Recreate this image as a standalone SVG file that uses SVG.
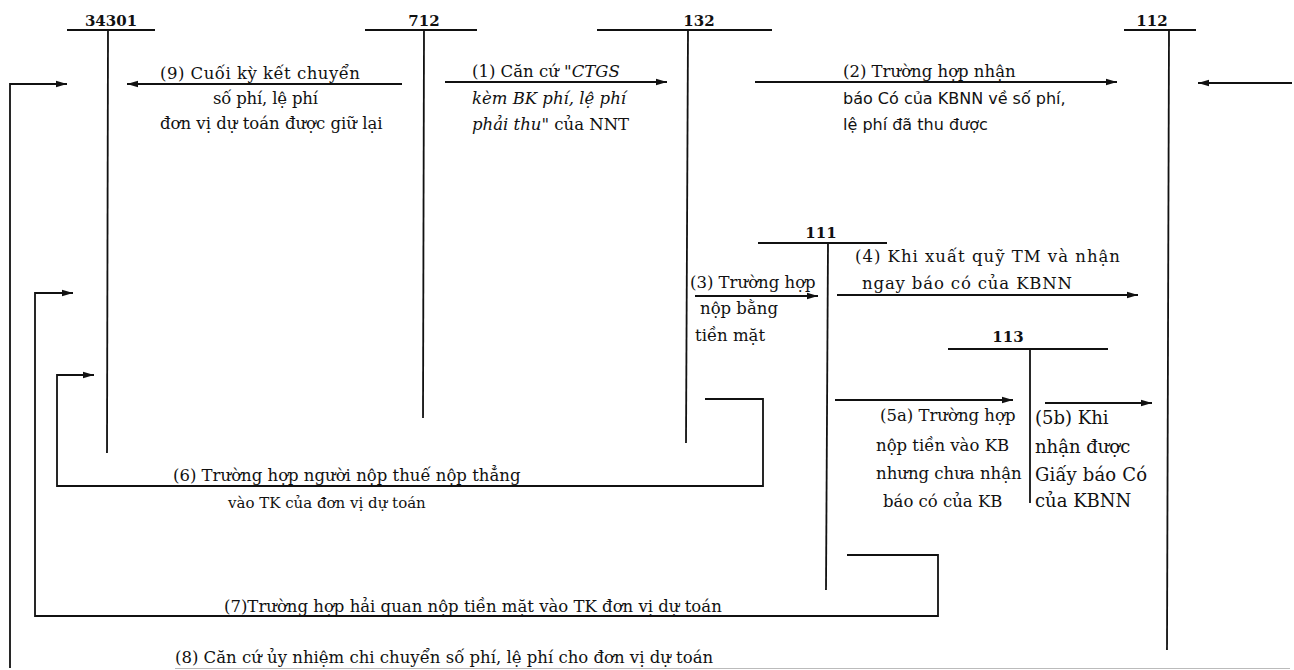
<svg xmlns="http://www.w3.org/2000/svg" width="1294" height="670" viewBox="0 0 1294 670">
<defs>
<marker id="ah" markerUnits="userSpaceOnUse" markerWidth="12" markerHeight="8" refX="11" refY="4" orient="auto">
<path d="M0,0.8 L11,4 L0,7.2 Z" fill="#111"/>
</marker>
<style>
.ln{stroke:#111;stroke-width:1.8;fill:none}
.hd{font-family:"DejaVu Serif","Liberation Serif",serif;font-weight:bold;font-size:15px;fill:#111;text-anchor:middle}
.tx{font-family:"DejaVu Serif","Liberation Serif",serif;font-size:16.5px;fill:#111}
.big{font-size:18px}
.sm{font-size:15px}
.sx{font-family:"DejaVu Sans","Liberation Sans",sans-serif;font-size:16px;fill:#111}
.it{font-style:italic}
</style>
</defs>
<rect width="1294" height="670" fill="#fff"/>

<g id="acc-34301">
<line class="ln" x1="67" y1="30" x2="155" y2="30"/>
<line class="ln" x1="108" y1="30" x2="107" y2="453"/>
<text class="hd" x="111" y="26">34301</text>
</g>
<g id="acc-712">
<line class="ln" x1="365" y1="30" x2="477" y2="30"/>
<line class="ln" x1="424" y1="30" x2="423" y2="418"/>
<text class="hd" x="424" y="26">712</text>
</g>
<g id="acc-132">
<line class="ln" x1="597" y1="30" x2="772" y2="30"/>
<line class="ln" x1="688" y1="30" x2="686" y2="443"/>
<text class="hd" x="699" y="26">132</text>
</g>
<g id="acc-112">
<line class="ln" x1="1124" y1="30" x2="1196" y2="30"/>
<line class="ln" x1="1169" y1="30" x2="1167" y2="650"/>
<text class="hd" x="1152" y="26">112</text>
</g>
<g id="acc-111">
<line class="ln" x1="758" y1="243" x2="887" y2="243"/>
<line class="ln" x1="828" y1="243" x2="826" y2="590"/>
<text class="hd" x="821" y="238">111</text>
</g>
<g id="acc-113">
<line class="ln" x1="948" y1="349" x2="1108" y2="349"/>
<line class="ln" x1="1030" y1="349" x2="1030" y2="503"/>
<text class="hd" x="1008" y="342">113</text>
</g>

<g id="connectors">
<line class="ln" x1="402" y1="84" x2="127" y2="84" marker-end="url(#ah)"/>
<line class="ln" x1="445" y1="82" x2="667" y2="82" marker-end="url(#ah)"/>
<line class="ln" x1="755" y1="82" x2="1117" y2="82" marker-end="url(#ah)"/>
<line class="ln" x1="1292" y1="83" x2="1198" y2="83" marker-end="url(#ah)"/>
<path class="ln" d="M10,668 V84 H67" marker-end="url(#ah)"/>
<line x1="175" y1="668.5" x2="1290" y2="668.5" stroke="#bbb" stroke-width="1.2"/>
<path class="ln" d="M847,555 H938 V616 H35 V293 H73" marker-end="url(#ah)"/>
<path class="ln" d="M705,399 H763 V486 H57 V375 H94" marker-end="url(#ah)"/>
<line class="ln" x1="695" y1="296" x2="818" y2="296" marker-end="url(#ah)"/>
<line class="ln" x1="837" y1="295" x2="1138" y2="295" marker-end="url(#ah)"/>
<line class="ln" x1="835" y1="400" x2="1013" y2="400" marker-end="url(#ah)"/>
<line class="ln" x1="1045" y1="403" x2="1152" y2="403" marker-end="url(#ah)"/>
</g>

<g id="label-9">
<text class="tx" x="160" y="79" textLength="200">(9) Cuối kỳ kết chuyển</text>
<text class="tx" x="213" y="104" textLength="105">số phí, lệ phí</text>
<text class="tx" x="160" y="129">đơn vị dự toán được giữ lại</text>
</g>
<g id="label-1">
<text class="tx" x="472" y="77">(1) Căn cứ "<tspan class="it">CTGS</tspan></text>
<text class="tx it" x="472" y="104">kèm BK phí, lệ phí</text>
<text class="tx" x="472" y="130"><tspan class="it">phải thu</tspan>" của NNT</text>
</g>
<g id="label-2">
<text class="tx" x="843" y="77">(2) Trường hợp nhận</text>
<text class="sx" x="843" y="104">báo Có của KBNN về số phí,</text>
<text class="sx" x="843" y="130">lệ phí đã thu được</text>
</g>
<g id="label-3">
<text class="tx" x="690" y="288">(3) Trường hợp</text>
<text class="tx" x="700" y="314">nộp bằng</text>
<text class="tx" x="695" y="341">tiền mặt</text>
</g>
<g id="label-4">
<text class="tx" x="855" y="262" textLength="265">(4) Khi xuất quỹ TM và nhận</text>
<text class="tx" x="862" y="289" textLength="210">ngay báo có của KBNN</text>
</g>
<g id="label-5a">
<text class="tx" x="880" y="421">(5a) Trường hợp</text>
<text class="tx" x="876" y="451">nộp tiền vào KB</text>
<text class="tx" x="876" y="479">nhưng chưa nhận</text>
<text class="tx" x="883" y="507">báo có của KB</text>
</g>
<g id="label-5b">
<text class="tx big" x="1035" y="424">(5b) Khi</text>
<text class="tx big" x="1035" y="453">nhận được</text>
<text class="tx big" x="1035" y="481" textLength="112">Giấy báo Có</text>
<text class="tx big" x="1035" y="507">của KBNN</text>
</g>
<g id="label-6">
<text class="tx" x="173" y="481">(6) Trường hợp người nộp thuế nộp thẳng</text>
<text class="tx sm" x="228" y="508">vào TK của đơn vị dự toán</text>
</g>
<g id="label-7">
<text class="tx" x="224" y="612">(7)Trường hợp hải quan nộp tiền mặt vào TK đơn vị dự toán</text>
</g>
<g id="label-8">
<text class="tx" x="175" y="663">(8) Căn cứ ủy nhiệm chi chuyển số phí, lệ phí cho đơn vị dự toán</text>
</g>
</svg>
